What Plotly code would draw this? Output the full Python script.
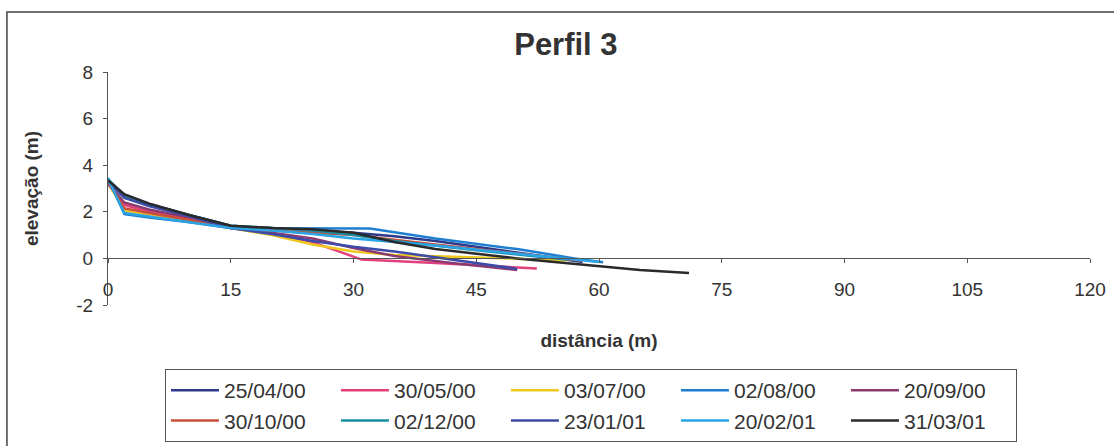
import plotly.graph_objects as go

title_text = "Perfil 3"
x_title = "distância (m)"
y_title = "elevação (m)"

dates = ["25/04/00", "30/05/00", "03/07/00", "02/08/00", "20/09/00",
         "30/10/00", "02/12/00", "23/01/01", "20/02/01", "31/03/01"]

colors = ["#2B3A8C", "#E2407C", "#EEC81E", "#1E7FD0", "#8A3A70",
          "#C8503A", "#1A8CA0", "#3C4AA8", "#2AA4E4", "#2A2A2A"]

x_2504 = [0, 2, 5, 10, 15, 20, 25, 30, 35, 40, 45, 50, 55, 58]
y_2504 = [3.35, 2.75, 2.35, 1.85, 1.4, 1.3, 1.2, 1.1, 0.95, 0.75, 0.5, 0.25, 0.0, -0.15]

x_3005 = [0, 2, 5, 10, 15, 20, 25, 31, 40, 52.4]
y_3005 = [3.2, 2.3, 2.0, 1.7, 1.3, 1.05, 0.7, -0.05, -0.2, -0.43]

x_0307 = [0, 2, 5, 10, 15, 20, 25, 30, 35, 45, 56]
y_0307 = [3.25, 2.05, 1.85, 1.6, 1.3, 1.0, 0.6, 0.3, 0.15, 0.05, -0.08]

x_0208 = [0, 2, 5, 10, 15, 20, 25, 32, 40, 50, 57, 60.5]
y_0208 = [3.45, 1.9, 1.75, 1.55, 1.3, 1.3, 1.3, 1.28, 0.85, 0.4, 0.0, -0.17]

x_2009 = [0, 2, 5, 10, 15, 20, 25, 30, 35, 42, 50]
y_2009 = [3.2, 2.4, 2.1, 1.75, 1.3, 1.1, 0.85, 0.45, 0.1, -0.2, -0.5]

x_3010 = [0, 2, 5, 10, 15, 20, 25, 30, 40, 50, 58]
y_3010 = [3.3, 2.15, 1.95, 1.65, 1.3, 1.2, 1.1, 1.0, 0.6, 0.2, -0.1]

x_0212 = [0, 2, 5, 10, 15, 20, 25, 30, 35, 45, 56]
y_0212 = [3.4, 2.7, 2.3, 1.85, 1.4, 1.3, 1.2, 1.0, 0.75, 0.35, -0.05]

x_2301 = [0, 2, 5, 10, 15, 20, 25, 30, 35, 40, 50]
y_2301 = [3.3, 2.6, 2.25, 1.8, 1.3, 1.05, 0.75, 0.5, 0.3, 0.05, -0.45]

x_2002 = [0, 2, 5, 10, 15, 20, 25, 30, 40, 50, 58, 60]
y_2002 = [3.4, 1.95, 1.8, 1.55, 1.3, 1.2, 1.05, 0.85, 0.55, 0.2, -0.1, -0.15]

x_3103 = [0, 2, 5, 10, 15, 20, 25, 30, 35, 40, 50, 60, 65, 71]
y_3103 = [3.35, 2.75, 2.35, 1.85, 1.4, 1.3, 1.25, 1.1, 0.7, 0.4, 0.0, -0.35, -0.5, -0.63]

xs = [x_2504, x_3005, x_0307, x_0208, x_2009, x_3010, x_0212, x_2301, x_2002, x_3103]
ys = [y_2504, y_3005, y_0307, y_0208, y_2009, y_3010, y_0212, y_2301, y_2002, y_3103]

x_ticks = [0, 15, 30, 45, 60, 75, 90, 105, 120]
y_ticks = [-2, 0, 2, 4, 6, 8]

FONT = "Arial, Liberation Sans, Helvetica, sans-serif"
AX = "#555555"

fig = go.Figure()
for name, c, xv, yv in zip(dates, colors, xs, ys):
    fig.add_trace(go.Scatter(x=xv, y=yv, mode="lines", name=name,
                             line=dict(color=c, width=2.5)))

fig.update_layout(
    width=1114, height=446,
    margin=dict(l=108, r=24, t=72, b=141, autoexpand=False),
    paper_bgcolor="white", plot_bgcolor="white",
    font=dict(family=FONT, color="#333333"),
    title=dict(text=title_text, x=0.508, xanchor="center", y=0.9, yanchor="middle",
               font=dict(size=31, family=FONT, weight="bold", color="#333333")),
    showlegend=True,
    legend=dict(orientation="h", x=0.058, xanchor="left", y=-0.275, yanchor="top",
                entrywidth=107, entrywidthmode="pixels", itemwidth=48,
                font=dict(size=21, family=FONT, color="#333333"),
                bordercolor="#555555", borderwidth=1, bgcolor="white"),
)

fig.update_xaxes(range=[0, 120], tickvals=x_ticks, ticktext=[str(v) for v in x_ticks],
                 anchor="free", position=0.2, automargin=False,
                 showline=True, linecolor=AX, linewidth=1, ticks="outside", ticklen=4,
                 tickcolor=AX, showgrid=False, zeroline=False,
                 tickfont=dict(size=19, family=FONT, color="#333333"),
                 ticklabelstandoff=10,
                 title=dict(text=x_title, standoff=34,
                            font=dict(size=19, family=FONT, weight="bold", color="#333333")))
fig.update_yaxes(range=[-2, 8], tickvals=y_ticks, ticktext=[str(v) for v in y_ticks],
                 automargin=False,
                 showline=True, linecolor=AX, linewidth=1, ticks="outside", ticklen=4,
                 tickcolor=AX, showgrid=False, zeroline=False,
                 tickfont=dict(size=19, family=FONT, color="#333333"),
                 ticklabelstandoff=6,
                 title=dict(text=y_title, standoff=32,
                            font=dict(size=19, family=FONT, weight="bold", color="#333333")))

fig.add_shape(type="rect", xref="paper", yref="paper",
              x0=-0.1029, x1=1.04, y0=-0.70, y1=1.2575,
              line=dict(color="#444444", width=1.5), fillcolor="rgba(0,0,0,0)", layer="below")

fig.write_html("out.html")
